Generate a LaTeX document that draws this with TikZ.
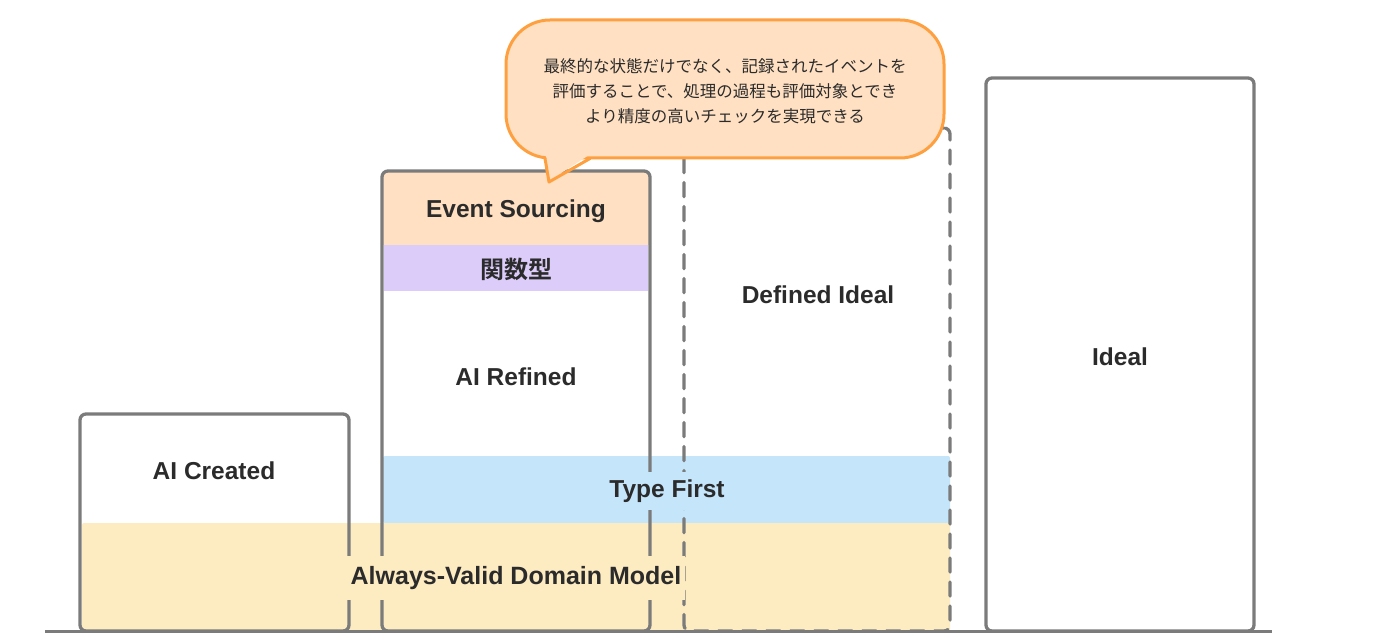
\documentclass[tikz,border=0pt]{standalone}
\usepackage{fontspec}
\setmainfont{Liberation Sans}
\newfontfamily\jp{Noto Sans CJK JP}[BoldFont={Noto Sans CJK JP Bold}]
\definecolor{lgray}{HTML}{7B7B7B}
\definecolor{yband}{HTML}{FDEBC1}
\definecolor{bband}{HTML}{C5E5FB}
\definecolor{peach}{HTML}{FFE0C2}
\definecolor{lilac}{HTML}{DCCCFA}
\definecolor{orng}{HTML}{FFA040}
\definecolor{ink}{HTML}{2B2B2B}
\begin{document}
\begin{tikzpicture}[x=1pt,y=-1pt,
  bar/.style={draw=lgray, line width=3.3pt, rounded corners=6pt, inner sep=0pt, minimum width=#1},
  lbl/.style={text=ink, font=\fontsize{24.5}{28}\selectfont\bfseries, inner sep=3pt},
  band/.style={draw=none, rounded corners=2pt}]
\useasboundingbox (0,0) rectangle (1400,636);
% section fills inside AI Refined column
\fill[peach, rounded corners=6pt] (382,171) rectangle (650,245);
\fill[peach] (382,200) rectangle (650,245);
\fill[lilac] (384,245) rectangle (648,291);
% bands
\fill[bband, rounded corners=2pt] (383,456) rectangle (950,523);
\fill[yband, rounded corners=2pt] (82,523) rectangle (950,631);
% columns
\node[bar=269pt, minimum height=217pt] (created) at (214.5,522.5) {};
\node[bar=268pt, minimum height=460pt] (refined) at (516,401) {};
\node[bar=266pt, minimum height=503pt, dash pattern=on 14pt off 10pt, line cap=round] (defined) at (817,379.5) {};
\node[bar=268pt, minimum height=553pt] (ideal) at (1120,354.5) {};
% baseline
\coordinate (bl) at (45,631);
\coordinate (br) at (1272,631);
\draw[lgray, line width=3pt] (bl) -- (br);
% labels
\node[lbl] (lcreated) at (214,471) {AI Created};
\node[lbl] (lrefined) at (516,377) {AI Refined};
\node[lbl] (lev) at (516,211) {Event Sourcing};
\node[lbl, font=\jp\fontsize{24}{28}\selectfont\bfseries] (lfn) at (516,269.5) {関数型};
\node[lbl] (ldefined) at (818,295) {Defined Ideal};
\node[lbl] (lideal) at (1120,357) {Ideal};
\node[lbl, fill=bband, inner ysep=8pt] (ltype) at (667,491) {Type First};
\node[lbl, fill=yband, inner xsep=4pt, inner ysep=10pt, font=\fontsize{25}{28}\selectfont\bfseries] (lavdm) at (516,578) {Always-Valid Domain Model};
% callout
\node[draw=orng, fill=peach, line width=3pt, rounded corners=44pt, minimum width=438pt, minimum height=138pt, inner sep=0pt] (call) at (725,89) {};
\fill[peach] (546,155) -- (549,181) -- (589,155) -- cycle;
\draw[orng, line width=3pt, line join=round, line cap=round] (545,158.5) -- (549,182) -- (590,158.5);
\node[text=ink, align=center, font=\jp\fontsize{16.5}{25}\selectfont] (ctext) at (725,91) {最終的な状態だけでなく、記録されたイベントを\\評価することで、処理の過程も評価対象とでき\\より精度の高いチェックを実現できる};
\end{tikzpicture}
\end{document}
